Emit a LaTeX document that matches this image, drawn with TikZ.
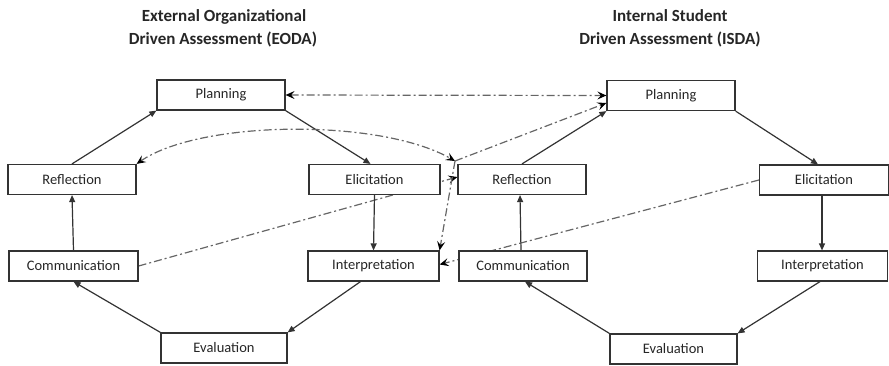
\documentclass[tikz,border=0pt]{standalone}
\usepackage{fontspec}
\setmainfont{Carlito}
\usetikzlibrary{arrows.meta,backgrounds}
\begin{document}
\begin{tikzpicture}[x=1pt,y=-1pt,
  box/.style={draw=black!80, line width=1.2pt, fill=white, minimum height=30pt, inner sep=0pt, font=\fontsize{14.5}{17}\selectfont, text=black!85},
  flow/.style={draw=black!80, line width=1.2pt, -{Triangle[length=7pt,width=6pt]}},
  link/.style={draw=black!60, line width=1.2pt, dash pattern=on 8pt off 3pt on 2pt off 3pt},
  dd/.tip={Stealth[length=9pt,width=8pt,inset=3.5pt,black]},
  ttl/.style={font=\fontsize{17}{20}\bfseries\selectfont, text=black!85, anchor=base}
]
\useasboundingbox (0,0) rectangle (889,365);

% titles
\node[ttl] (t1a) at (224,21.5) {External Organizational};
\node[ttl] (t1b) at (223,44) {Driven Assessment (EODA)};
\node[ttl] (t2a) at (670,21.5) {Internal Student};
\node[ttl] (t2b) at (670,44) {Driven Assessment (ISDA)};

% EODA boxes
\node[box, minimum width=128pt] (pl1) at (221,95) {Planning};
\node[box, minimum width=128pt] (re1) at (72,179.5) {Reflection};
\node[box, minimum width=131pt] (el1) at (374.5,179.5) {Elicitation};
\node[box, minimum width=129pt] (co1) at (73.5,266) {Communication};
\node[box, minimum width=131pt] (in1) at (373.5,266) {Interpretation};
\node[box, minimum width=126pt] (ev1) at (224,348) {Evaluation};

% ISDA boxes
\node[box, minimum width=128pt] (pl2) at (671,95.5) {Planning};
\node[box, minimum width=128pt] (re2) at (522,179.5) {Reflection};
\node[box, minimum width=129pt] (el2) at (824,180) {Elicitation};
\node[box, minimum width=128pt] (co2) at (523,266) {Communication};
\node[box, minimum width=130pt] (in2) at (822.5,266) {Interpretation};
\node[box, minimum width=127pt] (ev2) at (673.5,349) {Evaluation};

\coordinate (hub) at (455,161);

% EODA cycle
\draw[flow] (re1.north) -- (pl1.south west);
\draw[flow] (pl1.south east) -- ([xshift=-4pt]el1.north);
\draw[flow] (el1.south) -- (in1.north);
\draw[flow] ([xshift=-13pt]in1.south) -- (ev1.north east);
\draw[flow] (ev1.north west) -- (co1.south);
\draw[flow] (co1.north) -- (re1.south);

% ISDA cycle
\draw[flow] (re2.north) -- (pl2.south west);
\draw[flow] (pl2.south east) -- ([xshift=-6pt]el2.north);
\draw[flow] ([xshift=-2pt]el2.south) -- ([xshift=-0.5pt]in2.north);
\draw[flow] ([xshift=-2.5pt]in2.south) -- (ev2.north east);
\draw[flow] (ev2.north west) -- ([xshift=2pt]co2.south);
\draw[flow] ([xshift=-2pt]co2.north) -- ([xshift=-2pt]re2.south);

% dash-dot links
\draw[link, {dd}-{dd}] (pl1.east) -- (pl2.west);
\draw[link, {dd}-{dd}] (re1.north east) .. controls (200,120) and (380,118) .. (hub);
\draw[link, -{dd}] (hub) -- ([yshift=-7.5pt]pl2.west);
\draw[link, -{dd}] (hub) -- (in1.north east);
\begin{scope}[on background layer]
\draw[link, -{dd}] (co1.east) -- ([yshift=2.5pt]re2.west);
\draw[link, -{dd}] (el2.west) -- ([yshift=1.5pt]in1.east);
\end{scope}
\end{tikzpicture}
\end{document}
